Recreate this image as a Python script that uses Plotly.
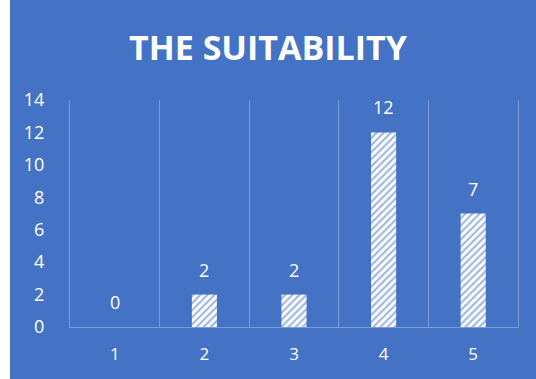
import plotly.graph_objects as go

categories = ["1", "2", "3", "4", "5"]
values = [0, 2, 2, 12, 7]
y_ticks = [0, 2, 4, 6, 8, 10, 12, 14]
title_text = "THE SUITABILITY"

BLUE = "#4472C4"
GRID = "rgb(124,156,214)"
FONT = "Open Sans"

W, H = 536, 379
L, R, T, B = 70, 18, 100, 52
pw, ph = W - L - R, H - T - B

fig = go.Figure()
fig.add_trace(go.Bar(
    x=categories, y=values, width=0.28,
    marker=dict(color="white", line=dict(width=0),
                pattern=dict(shape="/", fgcolor=BLUE, bgcolor="white",
                             size=5, solidity=0.45, fillmode="overlay")),
    hoverinfo="skip",
))

for i, v in enumerate(values):
    fig.add_annotation(x=i, y=v, text=str(v), showarrow=False, yshift=25,
                       font=dict(family=FONT, size=18, color="white"))

fig.add_shape(type="rect", xref="paper", yref="paper", layer="below",
              x0=(10 - L) / pw, x1=(W - L) / pw + 0.02,
              y0=-B / ph - 0.02, y1=(H - T + 96) / ph,
              fillcolor=BLUE, line=dict(width=0))

fig.update_layout(
    width=W, height=H,
    margin=dict(l=L, r=R, t=T, b=B),
    paper_bgcolor="white", plot_bgcolor="rgba(0,0,0,0)",
    showlegend=False,
    title=dict(text="<b>" + title_text + "</b>", x=0.5, xref="container", xanchor="center",
               y=1 - 48 / H, yref="container", yanchor="middle",
               font=dict(family=FONT, size=34, color="white")),
    xaxis=dict(type="category", tickson="boundaries", showgrid=True, gridcolor=GRID,
               gridwidth=1, showline=True, linecolor=GRID, linewidth=1, ticks="",
               tickfont=dict(family=FONT, size=17, color="white"),
               ticklabelstandoff=12),
    yaxis=dict(range=[0, 14], tickvals=y_ticks, showgrid=False, zeroline=False,
               showline=True, mirror=True, linecolor=GRID, linewidth=1, ticks="",
               tickfont=dict(family=FONT, size=18, color="white"),
               ticklabelstandoff=21),
    bargap=0.72,
)

fig.write_html("out.html")
